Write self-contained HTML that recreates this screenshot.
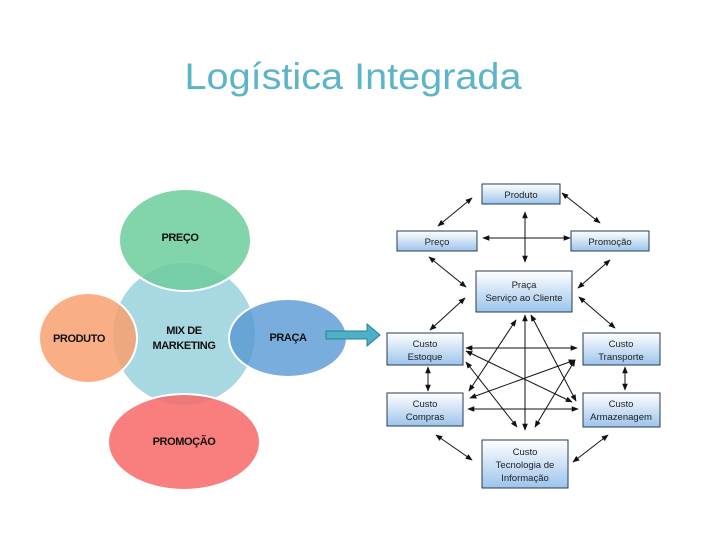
<!DOCTYPE html>
<html><head><meta charset="utf-8"><style>
body{margin:0;background:#fff;}
svg{display:block;font-family:"Liberation Sans",sans-serif;}
</style></head><body>
<svg width="720" height="540" viewBox="0 0 720 540" xmlns="http://www.w3.org/2000/svg">
<defs>
<linearGradient id="bx" x1="0" y1="0" x2="0" y2="1"><stop offset="0" stop-color="#ffffff"/><stop offset="1" stop-color="#9cc4ec"/></linearGradient>
<marker id="a" viewBox="0 0 10 10" refX="9" refY="5" markerWidth="7" markerHeight="7" orient="auto-start-reverse"><path d="M0,1 L10,5 L0,9 z" fill="#111"/></marker>
</defs>
<text x="353" y="89" text-anchor="middle" font-size="37" fill="#5bb4c8" textLength="337" lengthAdjust="spacingAndGlyphs">Logística Integrada</text>

<!-- left diagram -->
<circle cx="184" cy="334" r="71" fill="#a8d8e2"/>
<ellipse cx="185" cy="240" rx="66" ry="51" fill="#6ccc9c" fill-opacity="0.85" stroke="#fff" stroke-width="2"/>
<ellipse cx="88" cy="338" rx="49" ry="45" fill="#f8a070" fill-opacity="0.85" stroke="#fff" stroke-width="2"/>
<ellipse cx="288" cy="338" rx="59" ry="39" fill="#5898d4" fill-opacity="0.8" stroke="#fff" stroke-width="2"/>
<ellipse cx="184" cy="442" rx="76" ry="48" fill="#f86868" fill-opacity="0.85" stroke="#fff" stroke-width="2"/>
<g font-size="11" fill="#111" text-anchor="middle" font-weight="bold" letter-spacing="-0.4">
<text x="180" y="241">PREÇO</text>
<text x="79" y="342">PRODUTO</text>
<text x="184" y="334">MIX DE</text>
<text x="184" y="349">MARKETING</text>
<text x="288" y="341">PRAÇA</text>
<text x="184" y="445">PROMOÇÃO</text>
</g>
<path d="M326,331 L367,331 L367,324 L380,335 L367,346 L367,339 L326,339 z" fill="#4bb0c8" stroke="#2a7f96" stroke-width="1"/>

<!-- right diagram boxes -->
<g fill="url(#bx)" stroke="#2a3a50" stroke-width="1">
<rect x="482" y="184" width="78" height="20"/>
<rect x="397" y="231" width="80" height="20"/>
<rect x="571" y="231" width="78" height="20"/>
<rect x="476" y="271" width="96" height="41"/>
<rect x="387" y="333" width="76" height="32"/>
<rect x="583" y="333" width="77" height="32"/>
<rect x="387" y="393" width="76" height="33"/>
<rect x="583" y="393" width="77" height="34"/>
<rect x="482" y="440" width="86" height="48"/>
</g>
<g font-size="9.5" fill="#222" text-anchor="middle">
<text x="521" y="198">Produto</text>
<text x="437" y="245">Preço</text>
<text x="610" y="245">Promoção</text>
<text x="524" y="288">Praça</text>
<text x="524" y="301">Serviço ao Cliente</text>
<text x="425" y="347">Custo</text><text x="425" y="360">Estoque</text>
<text x="621" y="347">Custo</text><text x="621" y="360">Transporte</text>
<text x="425" y="407">Custo</text><text x="425" y="420">Compras</text>
<text x="621" y="407">Custo</text><text x="621" y="420">Armazenagem</text>
<text x="525" y="455">Custo</text><text x="525" y="468">Tecnologia de</text><text x="525" y="481">Informação</text>
</g>
<g stroke="#111" stroke-width="1" marker-start="url(#a)" marker-end="url(#a)">
<line x1="472" y1="198" x2="438" y2="226"/>
<line x1="562" y1="193" x2="600" y2="223"/>
<line x1="525" y1="212" x2="525" y2="262"/>
<line x1="483" y1="238" x2="570" y2="238"/>
<line x1="429" y1="257" x2="466" y2="287"/>
<line x1="610" y1="260" x2="578" y2="288"/>
<line x1="465" y1="298" x2="430" y2="330"/>
<line x1="579" y1="297" x2="615" y2="328"/>
<line x1="428" y1="367" x2="428" y2="391"/>
<line x1="625" y1="367" x2="625" y2="390"/>
<line x1="436" y1="435" x2="472" y2="460"/>
<line x1="608" y1="435" x2="573" y2="462"/>
<line x1="525" y1="315" x2="525" y2="430"/>
<line x1="466" y1="348" x2="577" y2="348"/>
<line x1="468" y1="409" x2="578" y2="409"/>
<line x1="516" y1="320" x2="469" y2="391"/>
<line x1="531" y1="315" x2="576" y2="401"/>
<line x1="466" y1="362" x2="517" y2="427"/>
<line x1="575" y1="360" x2="535" y2="427"/>
<line x1="466" y1="351" x2="572" y2="402"/>
<line x1="470" y1="398" x2="575" y2="360"/>
</g>
</svg>
</body></html>
